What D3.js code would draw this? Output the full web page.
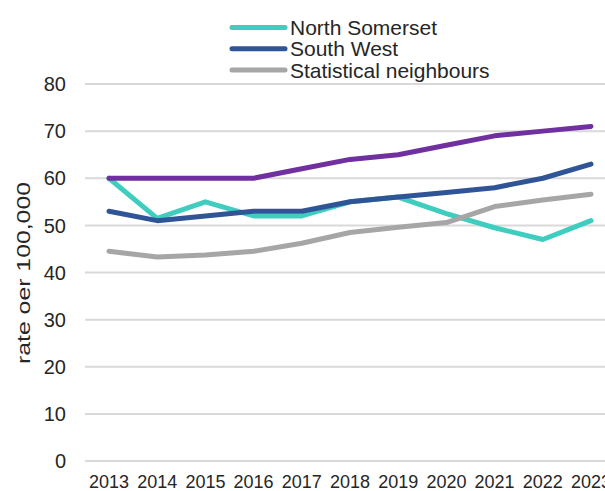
<!DOCTYPE html>
<html>
<head>
<meta charset="utf-8">
<script src="https://cdn.jsdelivr.net/npm/d3@7"></script>
<style>
  html, body { margin: 0; padding: 0; background: #fff; }
  svg { display: block; font-family: "Liberation Sans", Arial, sans-serif; }
</style>
</head>
<body>
<svg id="chart" width="605" height="491"></svg>
<script>
// data
const years = ["2013", "2014", "2015", "2016", "2017", "2018", "2019", "2020", "2021", "2022", "2023"];
const northSomerset = [60, 51.5, 55, 52, 52, 55, 56, 52.5, 49.5, 47, 51];
const southWest = [53, 51, 52, 53, 53, 55, 56, 57, 58, 60, 63];
const statNeighbours = [44.5, 43.3, 43.7, 44.5, 46.2, 48.5, 49.6, 50.6, 54, 55.4, 56.6];
const england = [60, 60, 60, 60, 62, 64, 65, 67, 69, 70, 71];
const yTicks = [0, 10, 20, 30, 40, 50, 60, 70, 80];

// drawing order: later ones sit on top
const series = [
  { name: "North Somerset", values: northSomerset, color: "#3ecdbf", legend: true },
  { name: "South West", values: southWest, color: "#2f5597", legend: true },
  { name: "Statistical neighbours", values: statNeighbours, color: "#a6a6a6", legend: true },
  { name: "England", values: england, color: "#7030a0", legend: false }
];

const svg = d3.select("#chart");

const x = d3.scalePoint().domain(years).range([109, 591]);
const y = d3.scaleLinear().domain([0, 80]).range([461, 84]);

// gridlines
svg.append("g")
  .selectAll("line")
  .data(yTicks)
  .enter().append("line")
  .attr("x1", 85).attr("x2", 605)
  .attr("y1", d => y(d)).attr("y2", d => y(d))
  .attr("stroke", "#d9d9d9")
  .attr("stroke-width", 2);

// y tick labels
svg.append("g")
  .selectAll("text")
  .data(yTicks)
  .enter().append("text")
  .attr("x", 66)
  .attr("y", d => y(d))
  .attr("dy", "0.36em")
  .attr("text-anchor", "end")
  .attr("font-size", 20)
  .attr("fill", "#262626")
  .text(d => d);

// x labels
svg.append("g")
  .selectAll("text")
  .data(years)
  .enter().append("text")
  .attr("x", d => x(d))
  .attr("y", 488)
  .attr("text-anchor", "middle")
  .attr("font-size", 18)
  .attr("fill", "#262626")
  .text(d => d);

// y axis title
svg.append("text")
  .attr("transform", "translate(30," + 273 + ") rotate(-90)")
  .attr("text-anchor", "middle")
  .attr("font-size", 19)
  .attr("textLength", 182)
  .attr("lengthAdjust", "spacingAndGlyphs")
  .attr("fill", "#262626")
  .text("rate oer 100,000");

// lines
const line = d3.line()
  .x((d, i) => x(years[i]))
  .y(d => y(d));

svg.append("g")
  .selectAll("path")
  .data(series)
  .enter().append("path")
  .attr("d", d => line(d.values))
  .attr("fill", "none")
  .attr("stroke", d => d.color)
  .attr("stroke-width", 5)
  .attr("stroke-linecap", "round")
  .attr("stroke-linejoin", "round");

// legend
const legend = svg.append("g")
  .selectAll("g")
  .data(series.filter(s => s.legend))
  .enter().append("g")
  .attr("transform", (d, i) => "translate(0," + (27.5 + i * 21.3) + ")");

legend.append("line")
  .attr("x1", 232).attr("x2", 285)
  .attr("stroke", d => d.color)
  .attr("stroke-width", 5)
  .attr("stroke-linecap", "round");

legend.append("text")
  .attr("x", 290)
  .attr("dy", "0.36em")
  .attr("font-size", 21)
  .attr("fill", "#262626")
  .text(d => d.name);
</script>
</body>
</html>
